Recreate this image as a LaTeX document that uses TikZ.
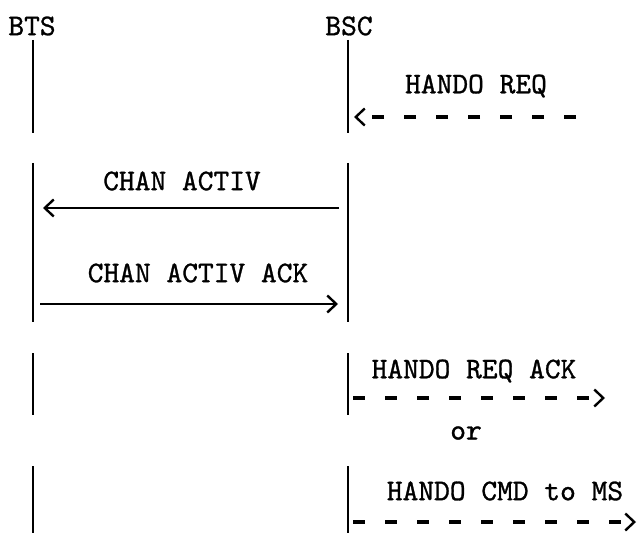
\documentclass[tikz,border=0pt]{standalone}
\usepackage{fontspec}
\newfontfamily\schreib{lmmono10-regular.otf}[FakeBold=1]
\usetikzlibrary{arrows.meta,positioning}

\begin{document}
\begin{tikzpicture}[x=1pt,y=-1pt,
  every node/.style={font=\fontsize{30}{36}\selectfont\schreib,inner sep=0pt},
  life/.style={line width=2.8pt},
  msg/.style={line width=1.8pt,-{Straight Barb[length=9pt,width=17pt,line width=2.4pt]}},
  dmsg/.style={msg,line width=3.2pt,dash pattern=on 12pt off 20pt}]
\useasboundingbox (0,0) rectangle (639,534);
\node (bts) at (32,26) {BTS};
\node (bsc) at (349,26) {BSC};
% lifelines in four pieces
\foreach \a/\b in {40/133,163/322,353/415,466/533} {
  \draw[life] (33,\a) -- (33,\b);
  \draw[life] (348,\a) -- (348,\b);
}
% handover request from MSC
\coordinate (hr0) at (576,117);
\coordinate (hr1) at (354,117);
\node (hreq) at (476,86) {HANDO REQ};
\draw[dmsg] (hr0) -- (hr1);
% channel activation
\coordinate (ca0) at (339,208);
\coordinate (ca1) at (43,208);
\node (chan) at (182,181) {CHAN ACTIV};
\draw[msg] (ca0) -- (ca1);
\coordinate (ck0) at (40,304);
\coordinate (ck1) at (338,304);
\node (chack) at (198,273) {CHAN ACTIV ACK};
\draw[msg] (ck0) -- (ck1);
% answer towards MSC
\coordinate (ha0) at (353,398);
\coordinate (ha1) at (605,398);
\node (hack) at (474,371) {HANDO REQ ACK};
\draw[dmsg] (ha0) -- (ha1);
\node (or) at (466,433) {or};
\coordinate (hc0) at (353,522);
\coordinate (hc1) at (636,522);
\node (hcmd) at (505,491) {HANDO CMD to MS};
\draw[dmsg] (hc0) -- (hc1);
\end{tikzpicture}
\end{document}
